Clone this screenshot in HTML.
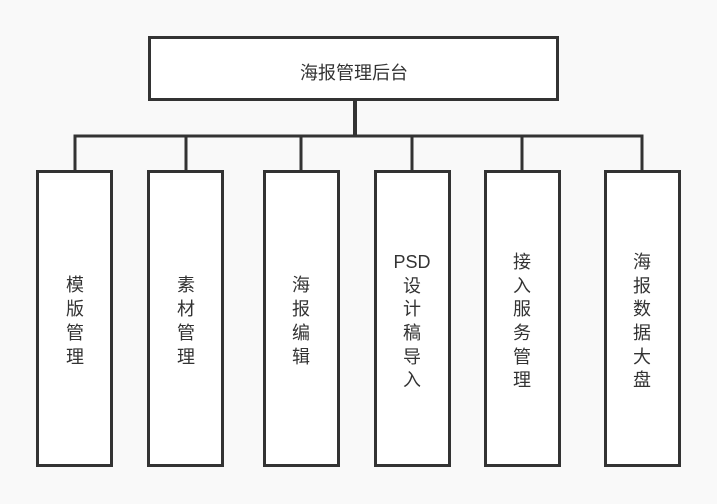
<!DOCTYPE html>
<html><head><meta charset="utf-8"><style>
html,body{margin:0;padding:0;background:#f9f9f9;}
svg{display:block;}
text{font-family:"Liberation Sans","Noto Sans CJK SC",sans-serif;fill:#333;font-size:18px;}
</style></head><body>
<svg width="717" height="504" viewBox="0 0 717 504" xmlns="http://www.w3.org/2000/svg">
<g stroke="#333" stroke-width="3" fill="#fff">
<rect x="149.5" y="37.5" width="408" height="62"/>
<rect x="37.5" y="171.5" width="74" height="294"/>
<rect x="148.5" y="171.5" width="74" height="294"/>
<rect x="264.5" y="171.5" width="74" height="294"/>
<rect x="375.5" y="171.5" width="74" height="294"/>
<rect x="485.5" y="171.5" width="74" height="294"/>
<rect x="605.5" y="171.5" width="74" height="294"/>
</g>
<g stroke="#333" fill="none">
<line x1="355" y1="100" x2="355" y2="136" stroke-width="4"/>
<polyline points="75,170 75,136 642,136 642,170" stroke-width="3"/>
<line x1="186" y1="136" x2="186" y2="170" stroke-width="3"/>
<line x1="301" y1="136" x2="301" y2="170" stroke-width="3"/>
<line x1="412" y1="136" x2="412" y2="170" stroke-width="3"/>
<line x1="522" y1="136" x2="522" y2="170" stroke-width="3"/>
</g>
<text x="354" y="79" text-anchor="middle" font-size="19">海报管理后台</text>
<g text-anchor="middle">
<text x="75" y="291">模</text><text x="75" y="315">版</text><text x="75" y="339">管</text><text x="75" y="363">理</text>
<text x="186" y="291">素</text><text x="186" y="315">材</text><text x="186" y="339">管</text><text x="186" y="363">理</text>
<text x="301" y="291">海</text><text x="301" y="315">报</text><text x="301" y="339">编</text><text x="301" y="363">辑</text>
<text x="412" y="268">PSD</text><text x="412" y="292">设</text><text x="412" y="315">计</text><text x="412" y="339">稿</text><text x="412" y="363">导</text><text x="412" y="386">入</text>
<text x="522" y="268">接</text><text x="522" y="292">入</text><text x="522" y="315">服</text><text x="522" y="339">务</text><text x="522" y="363">管</text><text x="522" y="386">理</text>
<text x="642" y="268">海</text><text x="642" y="292">报</text><text x="642" y="315">数</text><text x="642" y="339">据</text><text x="642" y="363">大</text><text x="642" y="386">盘</text>
</g>
</svg>
</body></html>
